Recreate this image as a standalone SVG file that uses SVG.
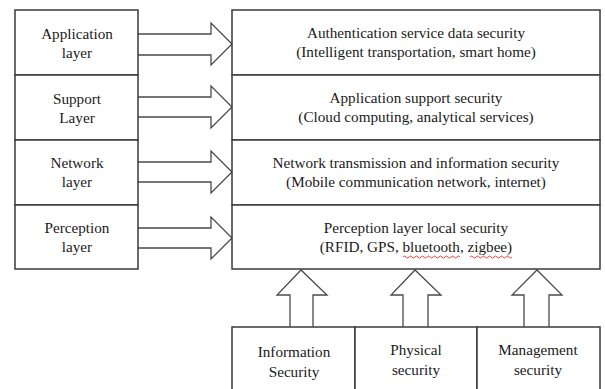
<svg xmlns="http://www.w3.org/2000/svg" width="605" height="389" viewBox="0 0 605 389">
<style>
.box{fill:#fff;stroke:#3a3a3a;stroke-width:1.5}
.arr{fill:#fff;stroke:#4a4a4a;stroke-width:1.3;stroke-linejoin:miter}
text{font-family:"Liberation Serif","Times New Roman",serif;font-size:15.2px;fill:#1a1a1a;text-anchor:middle}
.wave{fill:none;stroke:#e03030;stroke-width:0.9}
</style>
<rect width="605" height="389" fill="#fff"/>
<g id="connectors">
<path class="arr" d="M138,34 H211 V23 L232,44 L211,65 V55 H138"/>
<path class="arr" d="M138,97 H211 V86 L232,107 L211,128 V117 H138"/>
<path class="arr" d="M138,162 H211 V151 L232,172 L211,193 V182 H138"/>
<path class="arr" d="M138,228 H211 V217 L232,238 L211,259 V248 H138"/>
<path class="arr" d="M290,327 V295 H277 L301,270 L327,295 H313 V327"/>
<path class="arr" d="M403,327 V295 H391 L415,270 L441,295 H428 V327"/>
<path class="arr" d="M524,327 V295 H512 L537,270 L562,295 H549 V327"/>
</g>
<g id="app-layer"><rect class="box" x="15" y="10" width="123" height="65"/><text x="77" y="39">Application</text><text x="77" y="58">layer</text></g>
<g id="support-layer"><rect class="box" x="15" y="75" width="123" height="65"/><text x="77" y="104">Support</text><text x="77" y="123">Layer</text></g>
<g id="network-layer"><rect class="box" x="15" y="140" width="123" height="65"/><text x="77" y="168">Network</text><text x="77" y="187">layer</text></g>
<g id="perception-layer"><rect class="box" x="15" y="205" width="123" height="64"/><text x="77" y="233">Perception</text><text x="77" y="252">layer</text></g>
<g id="auth-security"><rect class="box" x="232" y="10" width="368" height="65"/><text x="416" y="38">Authentication service data security</text><text x="416" y="57">(Intelligent transportation, smart home)</text></g>
<g id="support-security"><rect class="box" x="232" y="75" width="368" height="65"/><text x="416" y="103">Application support security</text><text x="416" y="122">(Cloud computing, analytical services)</text></g>
<g id="network-security"><rect class="box" x="232" y="140" width="368" height="65"/><text x="416" y="168">Network transmission and information security</text><text x="416" y="187">(Mobile communication network, internet)</text></g>
<g id="perception-security"><rect class="box" x="232" y="205" width="368" height="64"/><text x="416" y="233">Perception layer local security</text><text x="416" y="252">(RFID, GPS, bluetooth, zigbee)</text>
<path class="wave" d="M403,257 q1.5,-2 3,0 t3,0 t3,0 t3,0 t3,0 t3,0 t3,0 t3,0 t3,0 t3,0 t3,0 t3,0 t3,0 t3,0 t3,0 t3,0 t3,0 t3,0 t3,0"/>
<path class="wave" d="M470,257 q1.5,-2 3,0 t3,0 t3,0 t3,0 t3,0 t3,0 t3,0 t3,0 t3,0 t3,0 t3,0 t3,0 t3,0 t3,0"/>
</g>
<g id="info-security"><rect class="box" x="232" y="327" width="123" height="70"/><text x="294" y="357">Information</text><text x="294" y="377">Security</text></g>
<g id="physical-security"><rect class="box" x="355" y="327" width="122" height="70"/><text x="416" y="355">Physical</text><text x="416" y="375">security</text></g>
<g id="management-security"><rect class="box" x="477" y="327" width="123" height="70"/><text x="538" y="355">Management</text><text x="538" y="375">security</text></g>
</svg>
